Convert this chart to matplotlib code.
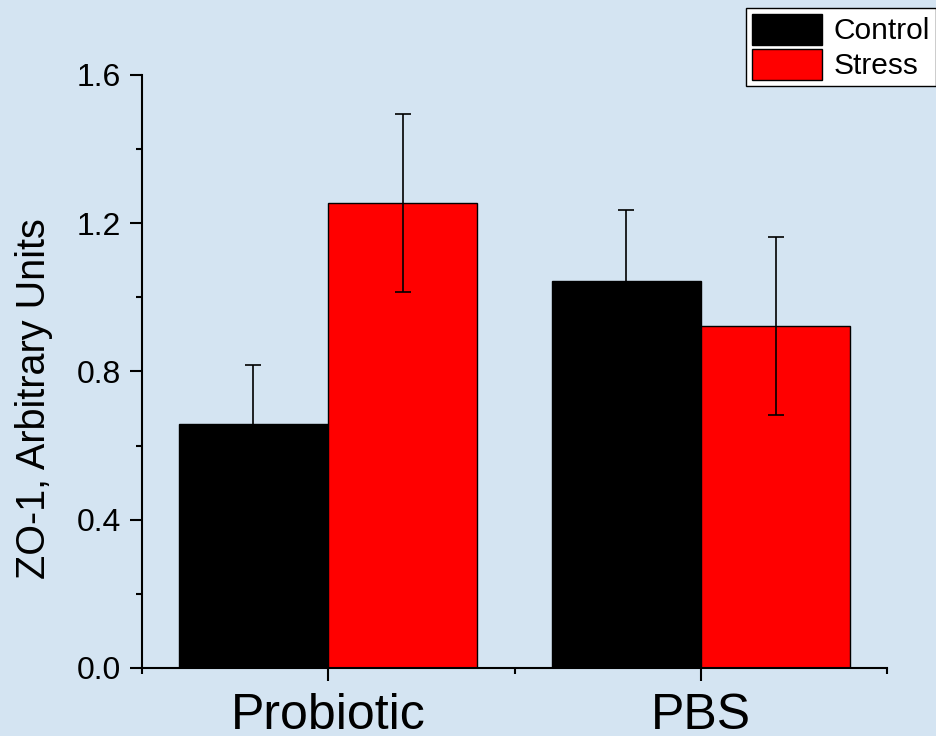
import numpy as np
import matplotlib
matplotlib.use('Agg')
import matplotlib.pyplot as plt
from matplotlib.ticker import MultipleLocator, FixedLocator

plt.rcParams['font.family'] = ['Liberation Sans', 'DejaVu Sans']

# --- data ---
groups = ['Probiotic', 'PBS']
series = ['Control', 'Stress']
values = {'Control': [0.658, 1.044], 'Stress': [1.255, 0.923]}
errors = {'Control': [0.16, 0.19], 'Stress': [0.24, 0.24]}
colors = {'Control': '#000000', 'Stress': '#ff0000'}

group_pos = np.array([1.0, 3.0])
offsets = {'Control': -0.4, 'Stress': 0.4}
bar_w = 0.8

fig = plt.figure(figsize=(9.37, 7.36), dpi=100)
fig.patch.set_facecolor('#d4e4f2')
ax = fig.add_axes([0.1511, 0.0924, 0.796, 0.806])
ax.set_facecolor('none')

for s in series:
    x = group_pos + offsets[s]
    ax.bar(x, values[s], width=bar_w, color=colors[s], edgecolor='black',
           linewidth=1, label=s, zorder=2)
    ax.errorbar(x, values[s], yerr=errors[s], fmt='none', ecolor='black',
                elinewidth=1.2, capsize=6, capthick=1.2, zorder=3)

ax.set_xlim(0, 4)
ax.set_ylim(0, 1.6)
ax.xaxis.set_major_locator(FixedLocator(group_pos))
ax.set_xticklabels(groups, fontsize=36)
ax.xaxis.set_minor_locator(FixedLocator([0, 2, 4]))
ax.yaxis.set_major_locator(MultipleLocator(0.4))
ax.yaxis.set_minor_locator(MultipleLocator(0.2))
ax.yaxis.set_major_formatter(plt.FormatStrFormatter('%.1f'))
ax.tick_params(axis='y', labelsize=23, pad=6)
ax.tick_params(which='major', length=9, width=1.5, direction='out')
ax.tick_params(which='minor', length=4.5, width=1.5, direction='out')
ax.tick_params(axis='x', which='major', pad=9)

for side in ['top', 'right']:
    ax.spines[side].set_visible(False)
for side in ['left', 'bottom']:
    ax.spines[side].set_linewidth(1.5)

ax.set_ylabel('ZO-1, Arbitrary Units', fontsize=28.5)
ax.yaxis.set_label_coords(-0.119, 0.454)

leg = fig.legend(loc='upper right', bbox_to_anchor=(936 / 937, 1 - 8 / 736),
                 fontsize=21.5, frameon=True, fancybox=False, framealpha=1,
                 edgecolor='black', handlelength=2.35, handleheight=1.2,
                 labelspacing=0.12, handletextpad=0.4, borderpad=0.2,
                 borderaxespad=0)
leg.get_frame().set_linewidth(1.0)

fig.savefig('out.png', dpi=100, facecolor=fig.get_facecolor())
